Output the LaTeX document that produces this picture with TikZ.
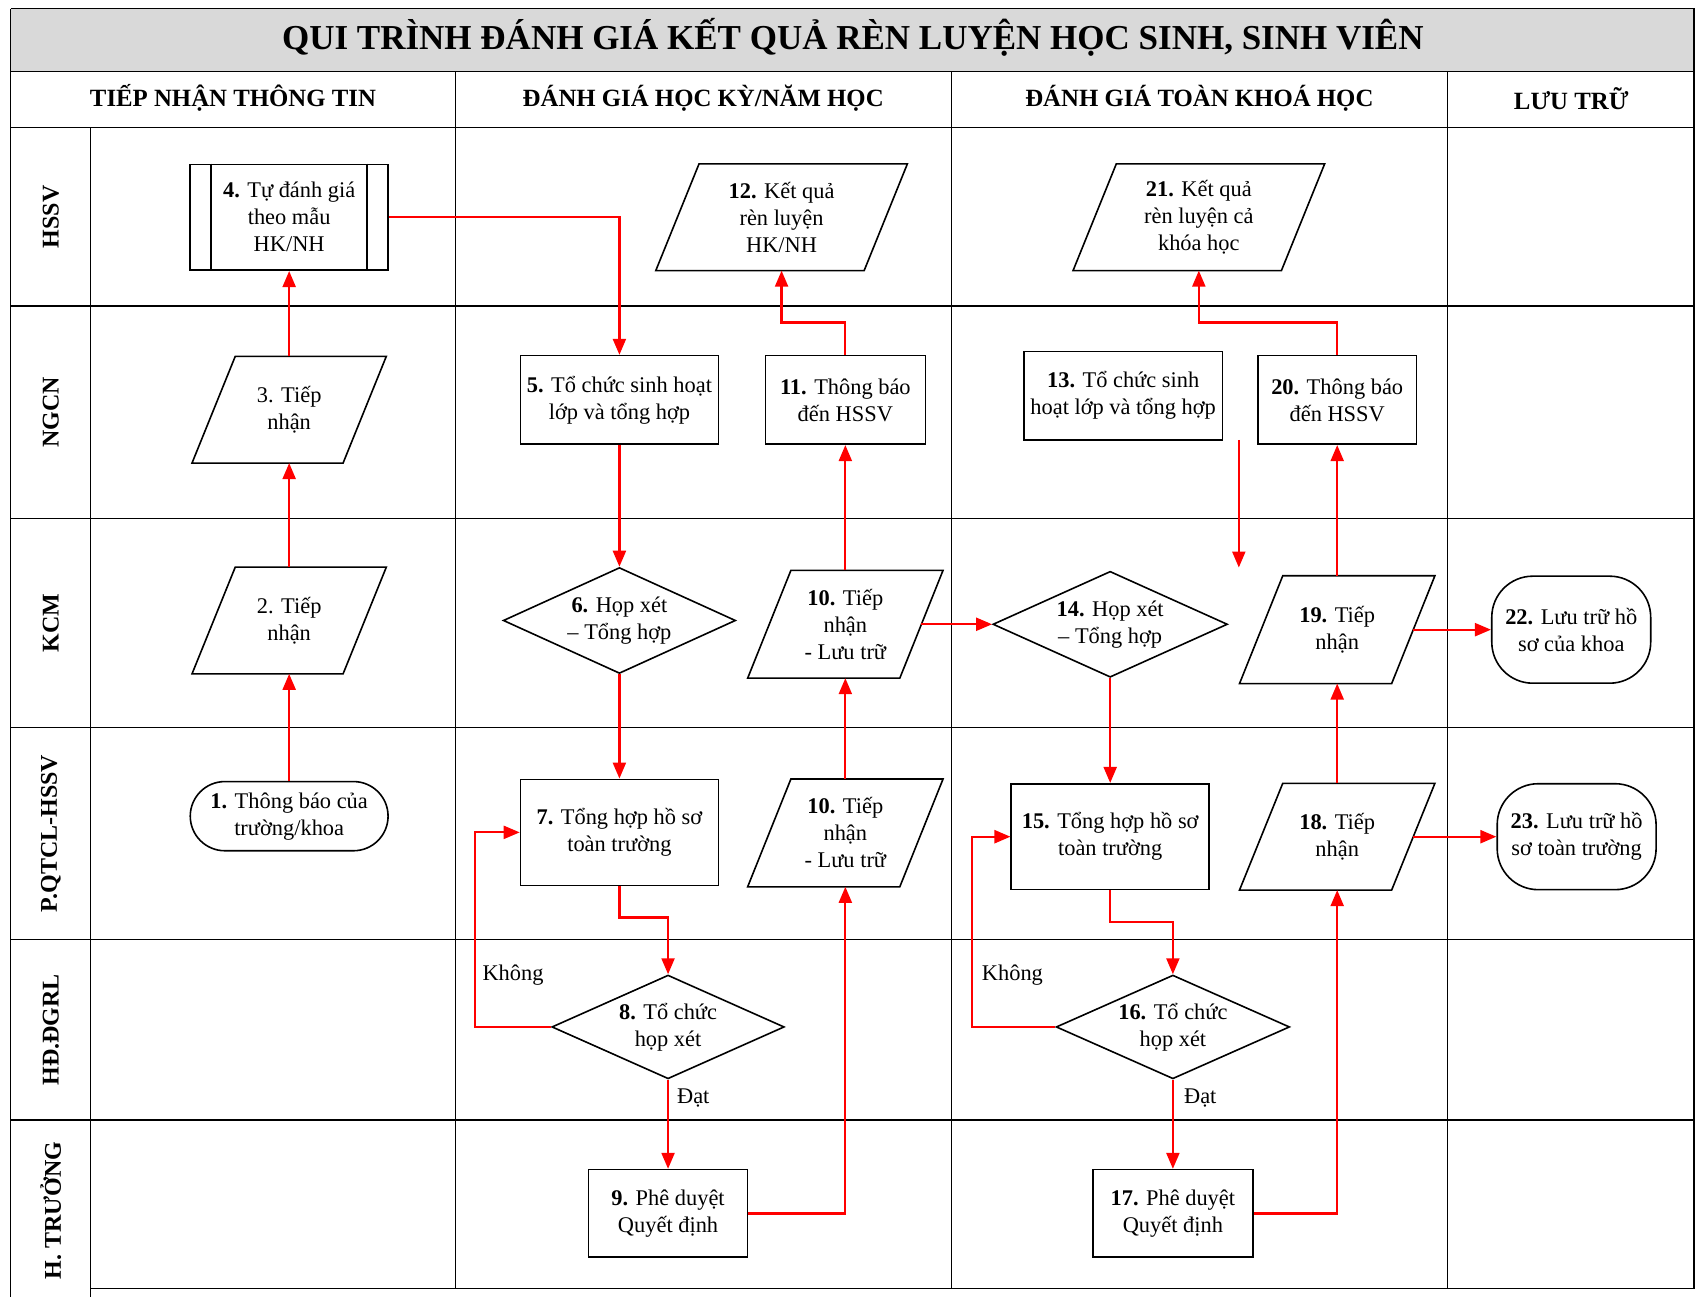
\documentclass[tikz,border=0pt]{standalone}
\usepackage{fontspec}
\setmainfont{Liberation Serif}
\usetikzlibrary{arrows.meta,shapes.geometric,calc}
\newcommand\pxu{0.5405pt}
\newcommand\paraoutline[2]{\draw[shapeline] ([xshift=-#2*\pxu]#1.south west) -- ([xshift=-#2*\pxu]#1.south east) -- ([xshift=#2*\pxu]#1.north east) -- ([xshift=#2*\pxu]#1.north west) -- cycle;}
\tikzset{
  base/.style={font=\fontsize{11.2}{13.5}\selectfont, align=center, inner sep=0pt},
  shapeline/.style={line width=0.8pt, black},
  box/.style={base, draw, shapeline, rectangle, minimum width=#1*\pxu},
  para/.style={base, rectangle, minimum width=#1*\pxu},
  dia/.style={base, draw, shapeline, diamond, aspect=2.2},
  term/.style={base, draw, shapeline, rectangle, rounded corners=#1},
  flow/.style={draw=red, line width=1.1pt, -{Triangle[length=8pt,width=6.5pt,fill=red]}},
  gridline/.style={line width=0.6pt, black},
  lanelbl/.style={font=\fontsize{12}{14}\selectfont\bfseries, rotate=90, inner sep=0pt},
  headlbl/.style={font=\fontsize{12.4}{14}\selectfont\bfseries, inner sep=0pt},
  edgelbl/.style={base, anchor=west}
}
\begin{document}
\begin{tikzpicture}[x=0.5405pt, y=-0.5405pt]
\useasboundingbox (0,0) rectangle (1568,1200);
% ---- frame and grid
\fill[gray!30] (10,8) rectangle (1568,66);
\draw[gridline] (10,8) -- (1568,8);
\draw[gridline] (10,8) -- (10,1200);
\draw[gridline] (1567,8) -- (1567,1192);
\draw[gridline] (10,66) -- (1568,66);
\draw[gridline] (10,118) -- (1568,118);
\foreach \xx in {421,880,1339} \draw[gridline] (\xx,66) -- (\xx,1192);
\draw[gridline] (84,118) -- (84,1200);
\foreach \yy in {283,480,673,869,1036} \draw[gridline] (10,\yy) -- (1568,\yy);
\draw[gridline] (84,1192) -- (1568,1192);
% ---- title and headers
\node[font=\fontsize{17.5}{20}\selectfont\bfseries, inner sep=0pt] (title) at (789,35) {QUI TRÌNH ĐÁNH GIÁ KẾT QUẢ RÈN LUYỆN HỌC SINH, SINH VIÊN};
\node[headlbl] (h1) at (215.5,91) {TIẾP NHẬN THÔNG TIN};
\node[headlbl] (h2) at (650.5,91) {ĐÁNH GIÁ HỌC KỲ/NĂM HỌC};
\node[headlbl] (h3) at (1109.5,91) {ĐÁNH GIÁ TOÀN KHOÁ HỌC};
\node[headlbl] (h4) at (1453.5,91) {LƯU TRỮ};
% ---- lanes
\node[lanelbl] (l1) at (47,200.5) {HSSV};
\node[lanelbl] (l2) at (47,381.5) {NGCN};
\node[lanelbl] (l3) at (47,576.5) {KCM};
\node[lanelbl] (l4) at (47,771) {P.QTCL-HSSV};
\node[lanelbl] (l5) at (47,952.5) {HĐ.ĐGRL};
\node[lanelbl] (l6) at (47,1120) {H. TRƯỞNG};
% ---- nodes
\node[term=17.3pt, minimum width=183*\pxu, minimum height=64*\pxu] (n1) at (267.5,755) {\textbf{1.} Thông báo của\\trường/khoa};
\node[para=139, minimum height=98*\pxu] (n2) at (267.5,574) {2. Tiếp\\nhận};
\paraoutline{n2}{20}
\node[para=139, minimum height=98*\pxu] (n3) at (267.5,379) {3. Tiếp\\nhận};
\paraoutline{n3}{20}
\node[box=183, minimum height=98*\pxu] (n4) at (267.5,201) {\textbf{4.} Tự đánh giá\\theo mẫu\\HK/NH};
\draw[shapeline] ([xshift=20*\pxu]n4.north west) -- ([xshift=20*\pxu]n4.south west);
\draw[shapeline] ([xshift=-20*\pxu]n4.north east) -- ([xshift=-20*\pxu]n4.south east);
\node[box=183, minimum height=82*\pxu] (n5) at (573,370) {\textbf{5.} Tổ chức sinh hoạt\\lớp và tổng hợp};
\node[dia, minimum width=215*\pxu, minimum height=98*\pxu] (n6) at (573,574) {\textbf{6.} Họp xét\\– Tổng hợp};
\node[box=183, minimum height=98*\pxu] (n7) at (573,770) {\textbf{7.} Tổng hợp hồ sơ\\toàn trường};
\node[dia, minimum width=215*\pxu, minimum height=96*\pxu] (n8) at (618,950) {\textbf{8.} Tổ chức\\họp xét};
\node[box=147, minimum height=81*\pxu] (n9) at (618,1122.5) {\textbf{9.} Phê duyệt\\Quyết định};
\node[para=140, minimum height=99*\pxu] (n10b) at (782,770.5) {\textbf{10.} Tiếp\\nhận\\- Lưu trữ};
\paraoutline{n10b}{20}
\node[para=140, minimum height=99*\pxu] (n10a) at (782,577.5) {\textbf{10.} Tiếp\\nhận\\- Lưu trữ};
\paraoutline{n10a}{20}
\node[box=148, minimum height=82*\pxu] (n11) at (782,370) {\textbf{11.} Thông báo\\đến HSSV};
\node[para=192, minimum height=98*\pxu] (n12) at (723,201) {\textbf{12.} Kết quả\\rèn luyện\\HK/NH};
\paraoutline{n12}{20}
\node[box=184, minimum height=82*\pxu] (n13) at (1039,366) {\textbf{13.} Tổ chức sinh\\hoạt lớp và tổng hợp};
\node[dia, minimum width=217*\pxu, minimum height=98*\pxu] (n14) at (1027,577.5) {\textbf{14.} Họp xét\\– Tổng hợp};
\node[box=183, minimum height=98*\pxu] (n15) at (1027,774) {\textbf{15.} Tổng hợp hồ sơ\\toàn trường};
\node[dia, minimum width=216*\pxu, minimum height=96*\pxu] (n16) at (1085,950) {\textbf{16.} Tổ chức\\họp xét};
\node[box=148, minimum height=81*\pxu] (n17) at (1085,1122.5) {\textbf{17.} Phê duyệt\\Quyết định};
\node[para=140, minimum height=98*\pxu] (n18) at (1237,774) {\textbf{18.} Tiếp\\nhận};
\paraoutline{n18}{20}
\node[para=140, minimum height=99*\pxu] (n19) at (1237,582.5) {\textbf{19.} Tiếp\\nhận};
\paraoutline{n19}{20}
\node[box=147, minimum height=82*\pxu] (n20) at (1237,370) {\textbf{20.} Thông báo\\đến HSSV};
\node[para=192, minimum height=98*\pxu] (n21) at (1109,201) {\textbf{21.} Kết quả\\rèn luyện cả\\khóa học};
\paraoutline{n21}{20}
\node[term=20.5pt, minimum width=147*\pxu, minimum height=99*\pxu] (n22) at (1453.5,582.5) {\textbf{22.} Lưu trữ hồ\\sơ của khoa};
\node[term=20.5pt, minimum width=147*\pxu, minimum height=98*\pxu] (n23) at (1458.5,774) {\textbf{23.} Lưu trữ hồ\\sơ toàn trường};
\coordinate (d13s) at (1146,407);
\coordinate (d13e) at (1146,525);
% ---- connectors
\draw[flow] (n1.north) -- (n2.south);
\draw[flow] (n2.north) -- (n3.south);
\draw[flow] (n3.north) -- (n4.south);
\draw[flow] (n4.east) -| (n5.north);
\draw[flow] (n5.south) -- (n6.north);
\draw[flow] (n6.south) -- (n7.north);
\draw[flow] (n7.south) -- ++(0,29) -| (n8.north);
\draw[flow] (n8.west) -- ++(-70,0) |- (n7.west);
\draw[flow] (n8.south) -- (n9.north);
\draw[flow] (n9.east) -| (n10b.south);
\draw[flow] (n10b.north) -- (n10a.south);
\draw[flow] (n10a.north) -- (n11.south);
\draw[flow] (n11.north) -- ++(0,-30) -| (n12.south);
\draw[flow] (n10a.east) -- (n14.west);
\draw[flow] (d13s) -- (d13e);
\draw[flow] (n14.south) -- (n15.north);
\draw[flow] (n15.south) -- ++(0,29) -| (n16.north);
\draw[flow] (n16.west) -- ++(-77,0) |- (n15.west);
\draw[flow] (n16.south) -- (n17.north);
\draw[flow] (n17.east) -| (n18.south);
\draw[flow] (n18.north) -- (n19.south);
\draw[flow] (n19.north) -- (n20.south);
\draw[flow] (n20.north) -- ++(0,-30) -| (n21.south);
\draw[flow] (n19.east) -- (n22.west);
\draw[flow] (n18.east) -- (n23.west);
% ---- edge labels
\node[edgelbl] (k1) at (446,902) {Không};
\node[edgelbl] (k2) at (908,902) {Không};
\node[edgelbl] (d1) at (626,1016) {Đạt};
\node[edgelbl] (d2) at (1095,1016) {Đạt};
\end{tikzpicture}
\end{document}
